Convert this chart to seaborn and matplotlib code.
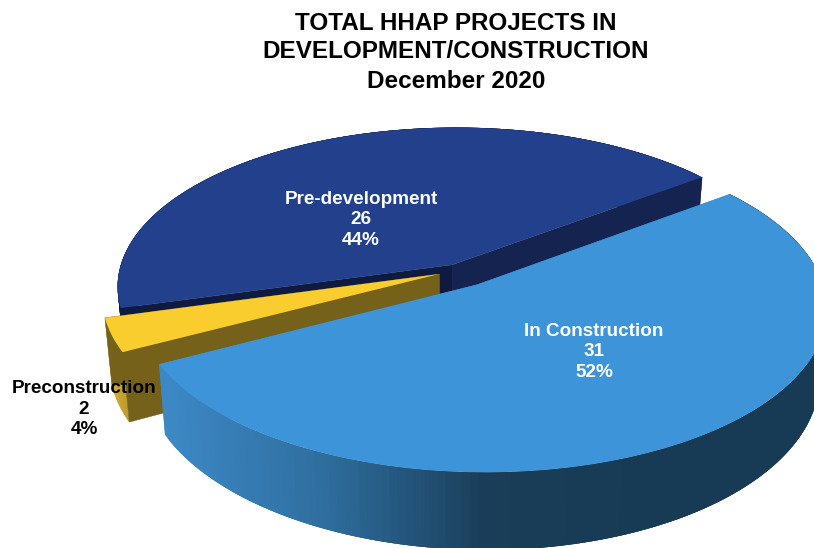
import numpy as np
import matplotlib
matplotlib.use("Agg")
import matplotlib.pyplot as plt
import seaborn as sns
from matplotlib.collections import PolyCollection
from matplotlib.colors import LinearSegmentedColormap
from matplotlib.transforms import Transform

categories = ["Pre-development", "Preconstruction", "In Construction"]
values = [26, 2, 31]
percents = [44, 4, 52]
title_lines = ["TOTAL HHAP PROJECTS IN", "DEVELOPMENT/CONSTRUCTION", "December 2020"]
top_colors = ["#23408C", "#FACD2F", "#3D94D8"]
explode = [0.04, 0.06, 0.105]
start_angle = 37

sns.set_theme(style="white")
plt.rcParams["font.family"] = ["Liberation Sans", "DejaVu Sans"]

CX, CY, A, B, P, Q, D, TAPER = 458.0, 270.5, 337.0, 157.6, 0.137, 0.012, 66.0, 0.02


def project(xy, z=0.0):
    xy = np.asarray(xy, dtype=float)
    w = 1 + P * xy[:, 1] - Q * xy[:, 0]
    return np.column_stack([CX + A * xy[:, 0] * (1 + TAPER * z) / w,
                            CY - (B * xy[:, 1] + D * z) / w])


class Tilt(Transform):
    input_dims = output_dims = 2
    is_separable = False
    has_inverse = False

    def transform_non_affine(self, values):
        return project(values)


fig = plt.figure(figsize=(8.14, 5.48), dpi=100)
ax = fig.add_axes([0, 0, 1, 1])
wedges, _ = ax.pie(values, startangle=start_angle, colors=top_colors,
                   explode=explode, radius=1, wedgeprops={"linewidth": 0})
ax.set_aspect("auto")
ax.set_xlim(0, 814)
ax.set_ylim(548, 0)
ax.axis("off")

wall_maps = [
    LinearSegmentedColormap.from_list("n", ["#0E1A40", "#0E1A40"]),
    LinearSegmentedColormap.from_list("y", ["#E3B92E", "#B8962A"]),
    LinearSegmentedColormap.from_list("b", ["#3D8AC8", "#2F6E9F", "#1A3D58", "#183B55"]),
]
radial_colors = [("#14234F", "#0E1A40"), ("#75611A", "#75611A"), ("#3D8AC8", "#3D8AC8")]

for i, w in enumerate(wedges):
    c = np.array(w.center)
    rim = lambda deg: c + w.r * np.array([np.cos(np.radians(deg)), np.sin(np.radians(deg))])
    z_order = 2 + 2 * i
    # radial cut faces
    for deg, col in zip((w.theta1, w.theta2), radial_colors[i]):
        pts = np.array([c, rim(deg)])
        quad = np.vstack([project(pts, 0), project(pts[::-1], -1)])
        ax.fill(quad[:, 0], quad[:, 1], color=col, lw=0.3, zorder=z_order)
    # outer wall, shaded left to right; each strip overlaps the next to hide seams
    angles = np.linspace(w.theta1, w.theta2, 160)
    pts = np.array([rim(a) for a in angles])
    top, bot = project(pts, 0), project(pts, -1)
    n = len(pts)
    strips = []
    for j in range(n - 1):
        k = min(j + 4, n)
        strips.append(np.vstack([top[j:k], bot[j:k][::-1]]))
    mids = np.array([p[:, 0].mean() for p in strips])
    if i == 2:
        shade = np.clip((mids - 155) / (640 - 155), 0, 1)
        strips = strips[::-1]
        shade = shade[::-1]
    elif i == 1:
        shade = np.clip((mids - 100) / 30, 0, 1)
    else:
        shade = np.zeros_like(mids)
    cols = wall_maps[i](shade)
    wall_z = z_order + (0.5 if i == 2 else -0.5)
    ax.add_collection(PolyCollection(strips, facecolors=cols, edgecolors="none",
                                     linewidths=0, zorder=wall_z))
    # top face
    w.set_transform(Tilt() + ax.transData)
    w.set_zorder(z_order + 1)

for line, y in zip(title_lines, (24, 52, 81)):
    ax.text(456, y, line, ha="center", va="center", fontsize=17.5, fontweight="bold",
            color="black", zorder=20)

label_pos = [(361, 220), (84, 409), (594, 352)]
label_cols = ["white", "black", "white"]
for cat, val, pct, (x, y), col in zip(categories, values, percents, label_pos, label_cols):
    ax.text(x, y, f"{cat}\n{val}\n{pct}%", ha="center", va="center", fontsize=13.6,
            fontweight="bold", color=col, linespacing=1.26, zorder=21)

fig.savefig("out.png", dpi=100)
